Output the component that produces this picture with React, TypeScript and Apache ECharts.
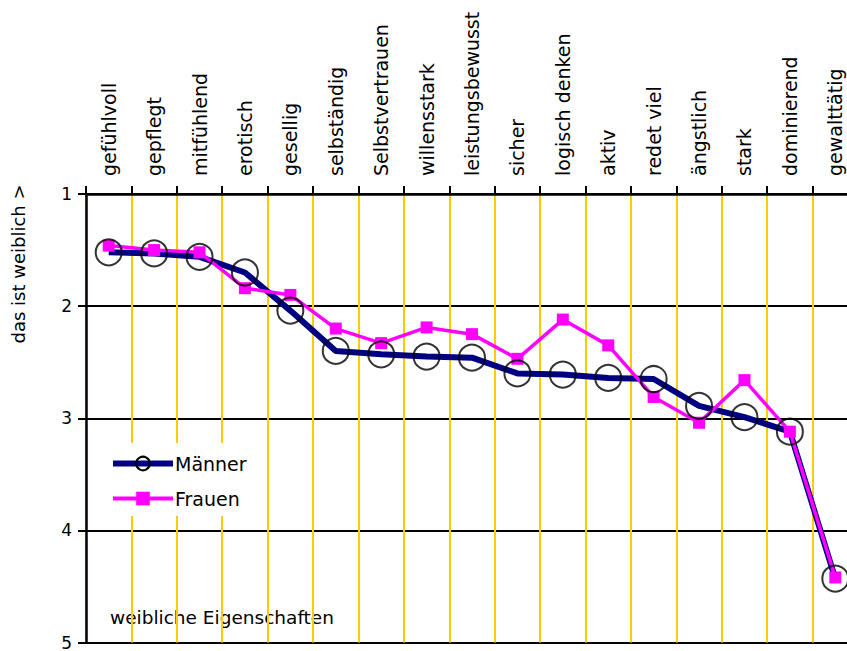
import React, { useEffect, useRef } from "react";
import * as echarts from "echarts";

const categories = [
  "gefühlvoll", "gepflegt", "mitfühlend", "erotisch", "gesellig", "selbständig",
  "Selbstvertrauen", "willensstark", "leistungsbewusst", "sicher", "logisch denken",
  "aktiv", "redet viel", "ängstlich", "stark", "dominierend", "gewalttätig",
];
const maenner = [1.52, 1.53, 1.56, 1.70, 2.04, 2.40, 2.43, 2.45, 2.46, 2.60, 2.61, 2.64, 2.65, 2.89, 2.99, 3.12, 4.43];
const frauen = [1.46, 1.50, 1.52, 1.84, 1.90, 2.20, 2.33, 2.19, 2.25, 2.47, 2.12, 2.35, 2.81, 3.04, 2.66, 3.12, 4.42];
const yMin = 1;
const yMax = 5;
const yStep = 1;
const seriesNames = ["Männer", "Frauen"];
const yAxisTitle = "das ist weiblich >";
const noteText = "weibliche Eigenschaften";

const FONT = "DejaVu Sans";

export default function App() {
  const ref = useRef<HTMLDivElement>(null);
  useEffect(() => {
    if (!ref.current) return;
    const chart = echarts.init(ref.current, undefined, { renderer: "svg" });
    chart.setOption({
      animation: false,
      backgroundColor: "#fff",
      textStyle: { fontFamily: FONT, color: "#000" },
      grid: { left: 86, top: 194, right: 12, bottom: 5, containLabel: false },
      xAxis: {
        type: "category",
        position: "top",
        data: categories,
        boundaryGap: true,
        axisLine: { show: true, lineStyle: { color: "#000", width: 2.5 } },
        axisTick: { show: true, inside: false, length: 8, interval: 0, lineStyle: { color: "#000", width: 2 } },
        axisLabel: {
          interval: 0,
          rotate: -90,
          margin: 18,
          fontSize: 19,
          fontFamily: FONT,
          color: "#000",
        },
        splitLine: { show: true, interval: 0, lineStyle: { color: "#FFCC00", width: 2 } },
      },
      yAxis: {
        type: "value",
        inverse: true,
        min: yMin,
        max: yMax,
        interval: yStep,
        axisLine: { show: true, lineStyle: { color: "#000", width: 2.5 } },
        axisTick: { show: true, inside: false, length: 8, lineStyle: { color: "#000", width: 2 } },
        axisLabel: { margin: 14, fontSize: 17, fontFamily: FONT, color: "#000" },
        splitLine: { show: true, lineStyle: { color: "#000", width: 2 } },
      },
      legend: {
        data: [
          { name: seriesNames[0], lineStyle: { width: 6 } },
          { name: seriesNames[1], lineStyle: { width: 4 } },
        ],
        orient: "vertical",
        left: 105,
        top: 443,
        padding: [11, 8, 8, 5],
        itemWidth: 60,
        itemHeight: 17,
        itemGap: 16,
        backgroundColor: "#fff",
        textStyle: { fontSize: 19, fontFamily: FONT, color: "#000", padding: [0, 0, 0, -3] },
        z: 6,
      },
      graphic: [
        {
          type: "text",
          x: 18,
          y: 264,
          rotation: Math.PI / 2,
          style: {
            text: yAxisTitle,
            fontSize: 18,
            fontFamily: FONT,
            fill: "#000",
            textAlign: "center",
            textVerticalAlign: "middle",
          },
        },
        {
          type: "text",
          x: 110,
          y: 617,
          style: {
            text: noteText,
            fontSize: 18.5,
            fontFamily: FONT,
            fill: "#000",
            textAlign: "left",
            textVerticalAlign: "middle",
          },
        },
      ],
      series: [
        {
          name: seriesNames[0],
          type: "line",
          data: maenner,
          z: 2,
          showSymbol: false,
          symbol: "circle",
          symbolSize: 26,
          lineStyle: { color: "#000080", width: 6 },
          itemStyle: { color: "rgba(255,255,255,0)", borderColor: "#000", borderWidth: 2 },
        },
        {
          name: seriesNames[1],
          type: "line",
          data: frauen,
          z: 3,
          symbol: "rect",
          symbolSize: 12,
          lineStyle: { color: "#FF00FF", width: 3.5 },
          itemStyle: { color: "#FF00FF", borderColor: "#FF00FF", borderWidth: 0 },
        },
        {
          name: "Männer Marker",
          type: "scatter",
          data: maenner,
          z: 4,
          symbol: "circle",
          symbolSize: 26,
          itemStyle: { color: "rgba(255,255,255,0)", borderColor: "#000", borderWidth: 2 },
        },
      ],
    });
    return () => chart.dispose();
  }, []);
  return (
    <div style={{ position: "absolute", left: 0, top: 0, width: 847, height: 651, overflow: "hidden" }}>
      <div ref={ref} style={{ width: 870, height: 651 }} />
    </div>
  );
}
